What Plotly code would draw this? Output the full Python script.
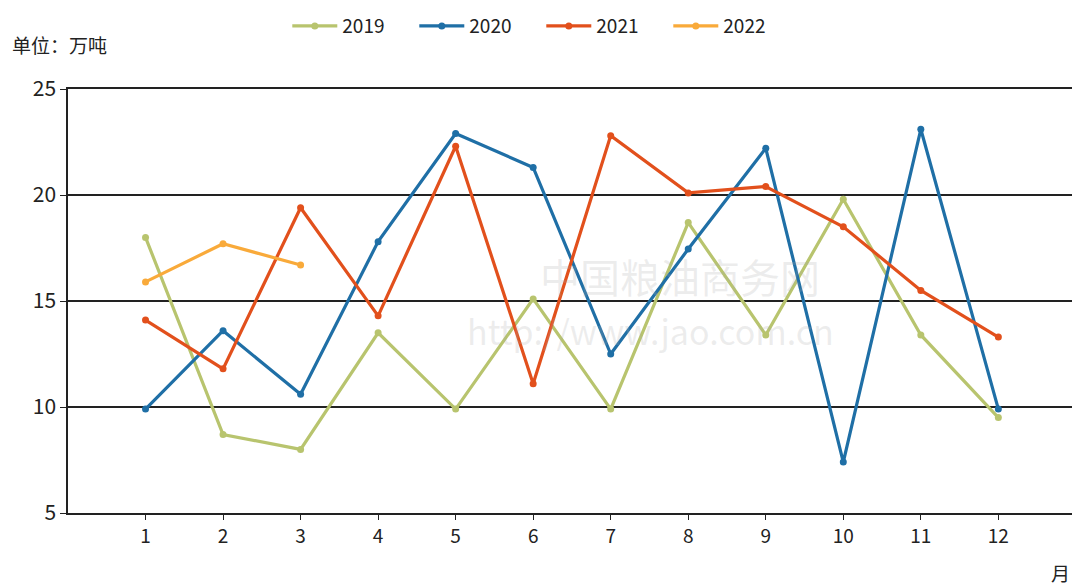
import plotly.graph_objects as go

months = [1, 2, 3, 4, 5, 6, 7, 8, 9, 10, 11, 12]
s2019 = [18.0, 8.7, 8.0, 13.5, 9.9, 15.1, 9.9, 18.7, 13.4, 19.8, 13.4, 9.5]
s2020 = [9.9, 13.6, 10.6, 17.8, 22.9, 21.3, 12.5, 17.45, 22.2, 7.4, 23.1, 9.9]
s2021 = [14.1, 11.8, 19.4, 14.3, 22.3, 11.1, 22.8, 20.1, 20.4, 18.5, 15.5, 13.3]
months2022 = [1, 2, 3]
s2022 = [15.9, 17.7, 16.7]

series = [
    ("2019", months, s2019, "#b8c46e"),
    ("2020", months, s2020, "#1f6fa6"),
    ("2021", months, s2021, "#e2501c"),
    ("2022", months2022, s2022, "#f9aa3a"),
]

font_family = "Noto Sans CJK SC, Noto Sans, DejaVu Sans, sans-serif"

fig = go.Figure()
for name, xs, ys, color in series:
    fig.add_trace(go.Scatter(
        x=xs, y=ys, name=name, mode="lines+markers",
        line=dict(color=color, width=3.2),
        marker=dict(color=color, size=7),
    ))

fig.update_layout(
    width=1072, height=586,
    margin=dict(l=68, r=0, t=89, b=73),
    paper_bgcolor="white", plot_bgcolor="white",
    font=dict(family=font_family, size=19, color="#222222"),
    showlegend=True,
    legend=dict(
        orientation="h", xref="container", yref="container",
        x=0.268, y=0.988, xanchor="left", yanchor="top",
        font=dict(size=19, color="#222222"),
        itemwidth=45,
        entrywidth=67, entrywidthmode="pixels",
        bgcolor="rgba(0,0,0,0)",
    ),
    xaxis=dict(
        range=[0, 12.95], tickmode="array", tickvals=months,
        ticktext=[str(m) for m in months],
        showgrid=False, zeroline=False,
        showline=True, linecolor="#222222", linewidth=1.5, mirror=True,
        ticks="outside", ticklen=5, tickcolor="#222222",
        tickfont=dict(size=19),
    ),
    yaxis=dict(
        range=[5, 25], tickvals=[5, 10, 15, 20, 25],
        showgrid=True, gridcolor="#222222", gridwidth=1.5,
        zeroline=False,
        showline=True, linecolor="#222222", linewidth=1.5,
        ticks="outside", ticklen=6, tickcolor="#222222",
        tickfont=dict(size=21),
    ),
    annotations=[
        dict(text="单位：万吨", xref="paper", yref="paper", x=-0.0578, y=1.104,
             xanchor="left", yanchor="middle", showarrow=False,
             font=dict(size=19, color="#222222")),
        dict(text="月", xref="paper", yref="paper", x=1.0, y=-0.1415,
             xanchor="right", yanchor="middle", showarrow=False,
             font=dict(size=19, color="#222222")),
        dict(text="中国粮油商务网", xref="paper", yref="paper", x=0.61, y=0.56,
             xanchor="center", yanchor="middle", showarrow=False,
             font=dict(size=40, color="rgba(170,170,170,0.22)")),
        dict(text="http://www.jao.com.cn", xref="paper", yref="paper", x=0.58, y=0.43,
             xanchor="center", yanchor="middle", showarrow=False,
             font=dict(size=34, color="rgba(170,170,170,0.22)")),
    ],
)

fig.write_html("out.html")
